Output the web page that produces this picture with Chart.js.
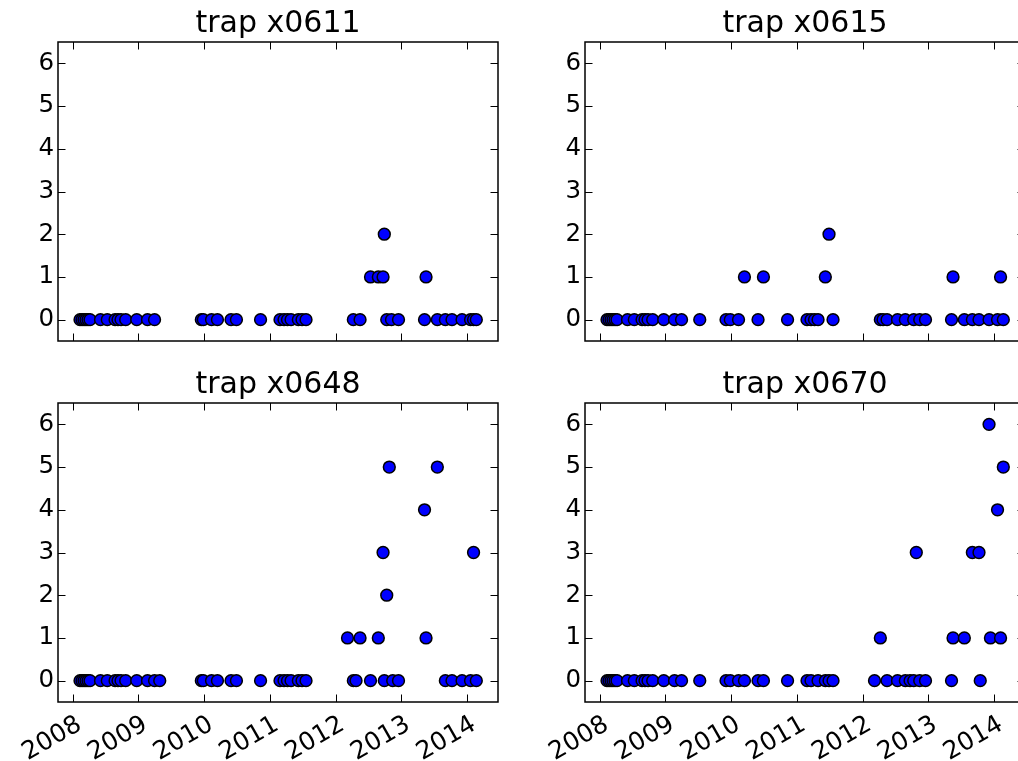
<!DOCTYPE html>
<html>
<head>
<meta charset="utf-8">
<script src="https://cdn.jsdelivr.net/npm/chart.js@4.4.1/dist/chart.umd.min.js"></script>
<style>
  html, body { margin: 0; padding: 0; background: #fff; overflow: hidden; width: 1018px; height: 761px; }
  canvas { position: absolute; }
</style>
</head>
<body>
<canvas id="c0611" width="556" height="352" style="left:0px;top:0px"></canvas>
<canvas id="c0615" width="556" height="352" style="left:527px;top:0px"></canvas>
<canvas id="c0648" width="556" height="400" style="left:0px;top:361px"></canvas>
<canvas id="c0670" width="556" height="400" style="left:527px;top:361px"></canvas>
<script>
// tick labels
var yearTicks = [2008, 2009, 2010, 2011, 2012, 2013, 2014];
var countTicks = [0, 1, 2, 3, 4, 5, 6];
var xMin = 2007.776, xMax = 2014.471;

// sampling dates (decimal years) and counts per trap
var x0611Dates = [2008.111, 2008.142, 2008.172, 2008.202, 2008.233, 2008.263,
  2008.423, 2008.526, 2008.644, 2008.689, 2008.735, 2008.806, 2008.974, 2009.138, 2009.245,
  2009.957, 2009.987, 2010.112, 2010.202, 2010.409, 2010.491, 2010.858,
  2011.154, 2011.215, 2011.268, 2011.322, 2011.433, 2011.489, 2011.550,
  2012.270, 2012.372, 2012.531, 2012.650, 2012.722, 2012.741, 2012.778, 2012.850, 2012.957,
  2013.353, 2013.376, 2013.548, 2013.670, 2013.771, 2013.924, 2014.053, 2014.099, 2014.141];
var x0611Counts = [0, 0, 0, 0, 0, 0,
  0, 0, 0, 0, 0, 0, 0, 0, 0,
  0, 0, 0, 0, 0, 0, 0,
  0, 0, 0, 0, 0, 0, 0,
  0, 0, 1, 1, 1, 2, 0, 0, 0,
  0, 1, 0, 0, 0, 0, 0, 0, 0];

var x0615Dates = [2008.111, 2008.142, 2008.172, 2008.202, 2008.233, 2008.263,
  2008.423, 2008.526, 2008.644, 2008.689, 2008.735, 2008.806, 2008.974, 2009.138, 2009.245, 2009.522,
  2009.922, 2009.987, 2010.112, 2010.202, 2010.409, 2010.491, 2010.858,
  2011.154, 2011.215, 2011.268, 2011.322, 2011.433, 2011.489, 2011.550,
  2012.270, 2012.311, 2012.372, 2012.531, 2012.650, 2012.778, 2012.869, 2012.957,
  2013.353, 2013.376, 2013.548, 2013.670, 2013.771, 2013.924, 2014.053, 2014.099, 2014.141];
var x0615Counts = [0, 0, 0, 0, 0, 0,
  0, 0, 0, 0, 0, 0, 0, 0, 0, 0,
  0, 0, 0, 1, 0, 1, 0,
  0, 0, 0, 0, 1, 2, 0,
  0, 0, 0, 0, 0, 0, 0, 0,
  0, 1, 0, 0, 0, 0, 0, 1, 0];

var x0648Dates = [2008.111, 2008.142, 2008.172, 2008.202, 2008.233, 2008.263,
  2008.423, 2008.526, 2008.644, 2008.689, 2008.735, 2008.806, 2008.974, 2009.138, 2009.245, 2009.324,
  2009.957, 2009.987, 2010.112, 2010.202, 2010.409, 2010.491, 2010.858,
  2011.154, 2011.215, 2011.268, 2011.322, 2011.433, 2011.489, 2011.550,
  2012.181, 2012.270, 2012.311, 2012.372, 2012.531, 2012.650, 2012.722, 2012.741, 2012.778, 2012.817, 2012.869, 2012.957,
  2013.353, 2013.376, 2013.548, 2013.670, 2013.771, 2013.924, 2014.053, 2014.099, 2014.141];
var x0648Counts = [0, 0, 0, 0, 0, 0,
  0, 0, 0, 0, 0, 0, 0, 0, 0, 0,
  0, 0, 0, 0, 0, 0, 0,
  0, 0, 0, 0, 0, 0, 0,
  1, 0, 0, 1, 0, 1, 3, 0, 2, 5, 0, 0,
  4, 1, 5, 0, 0, 0, 0, 3, 0];

var x0670Dates = [2008.111, 2008.142, 2008.172, 2008.202, 2008.233, 2008.263,
  2008.423, 2008.526, 2008.644, 2008.689, 2008.735, 2008.806, 2008.974, 2009.138, 2009.245, 2009.522,
  2009.922, 2009.987, 2010.112, 2010.202, 2010.409, 2010.491, 2010.858,
  2011.154, 2011.215, 2011.322, 2011.433, 2011.489, 2011.550,
  2012.181, 2012.270, 2012.372, 2012.531, 2012.650, 2012.722, 2012.778, 2012.817, 2012.869, 2012.957,
  2013.353, 2013.376, 2013.548, 2013.670, 2013.771, 2013.790, 2013.924, 2013.945, 2014.053, 2014.099, 2014.141];
var x0670Counts = [0, 0, 0, 0, 0, 0,
  0, 0, 0, 0, 0, 0, 0, 0, 0, 0,
  0, 0, 0, 0, 0, 0, 0,
  0, 0, 0, 0, 0, 0,
  0, 1, 0, 0, 0, 0, 0, 3, 0, 0,
  0, 1, 1, 3, 3, 0, 6, 1, 4, 1, 5];

var font = "'DejaVu Sans', 'Liberation Sans', sans-serif";

// box around the axes with inward ticks on all four sides
var frame = {
  id: 'frame',
  afterDatasetsDraw: function(chart) {
    var ctx = chart.ctx, a = chart.chartArea, x = chart.scales.x, y = chart.scales.y;
    ctx.save();
    ctx.strokeStyle = '#000';
    ctx.lineWidth = 1;
    ctx.beginPath();
    x.ticks.forEach(function(t) {
      var p = Math.round(x.getPixelForValue(t.value)) + 0.5;
      ctx.moveTo(p, a.bottom); ctx.lineTo(p, a.bottom - 7.5);
      ctx.moveTo(p, a.top); ctx.lineTo(p, a.top + 7.5);
    });
    y.ticks.forEach(function(t) {
      var p = Math.round(y.getPixelForValue(t.value)) + 0.5;
      ctx.moveTo(a.left, p); ctx.lineTo(a.left + 7.5, p);
      ctx.moveTo(a.right, p); ctx.lineTo(a.right - 7.5, p);
    });
    ctx.stroke();
    ctx.lineWidth = 1.5;
    ctx.strokeRect(a.left, a.top, a.right - a.left, a.bottom - a.top);
    ctx.restore();
  }
};

function noPad(s) {
  s.paddingLeft = 0; s.paddingRight = 0; s.paddingTop = 0; s.paddingBottom = 0;
}

function makeChart(id, name, dates, counts, showYears) {
  var points = dates.map(function(d, i) { return {x: d, y: counts[i]}; });
  return new Chart(document.getElementById(id), {
    type: 'scatter',
    data: {
      datasets: [{
        data: points,
        backgroundColor: '#0000ff',
        borderColor: '#000000',
        borderWidth: 1.5,
        pointRadius: 5.9,
        pointHoverRadius: 5.9
      }]
    },
    options: {
      responsive: false,
      animation: false,
      events: [],
      layout: { padding: 0, autoPadding: false },
      plugins: {
        legend: { display: false },
        tooltip: { enabled: false },
        title: {
          display: true,
          text: 'trap ' + name,
          color: '#000',
          font: { family: font, size: 30, weight: 'normal', lineHeight: 1.1 },
          padding: { top: 8, bottom: 1 }
        }
      },
      scales: {
        x: {
          type: 'linear',
          position: 'bottom',
          min: xMin,
          max: xMax,
          grid: { display: false, drawTicks: false },
          border: { display: false },
          afterBuildTicks: function(s) { s.ticks = yearTicks.map(function(v) { return {value: v}; }); },
          afterFit: function(s) { s.height = showYears ? 59 : 11; noPad(s); },
          ticks: {
            display: showYears,
            autoSkip: false,
            minRotation: 30,
            maxRotation: 30,
            padding: 8,
            labelOffset: 7,
            color: '#000',
            font: { family: font, size: 25 },
            callback: function(v) { return String(v); }
          }
        },
        y: {
          type: 'linear',
          position: 'left',
          min: -0.5,
          max: 6.5,
          grid: { display: false, drawTicks: false },
          border: { display: false },
          afterBuildTicks: function(s) { s.ticks = countTicks.map(function(v) { return {value: v}; }); },
          afterFit: function(s) { s.width = 58; noPad(s); },
          ticks: {
            padding: 4,
            color: '#000',
            font: { family: font, size: 24.5 },
            callback: function(v) { return String(v); }
          }
        },
        yr: {
          type: 'linear',
          position: 'right',
          grid: { display: false, drawTicks: false },
          border: { display: false },
          ticks: { display: false },
          afterFit: function(s) { s.width = 58; noPad(s); }
        }
      }
    },
    plugins: [frame]
  });
}

makeChart('c0611', 'x0611', x0611Dates, x0611Counts, false);
makeChart('c0615', 'x0615', x0615Dates, x0615Counts, false);
makeChart('c0648', 'x0648', x0648Dates, x0648Counts, true);
makeChart('c0670', 'x0670', x0670Dates, x0670Counts, true);
</script>
</body>
</html>
